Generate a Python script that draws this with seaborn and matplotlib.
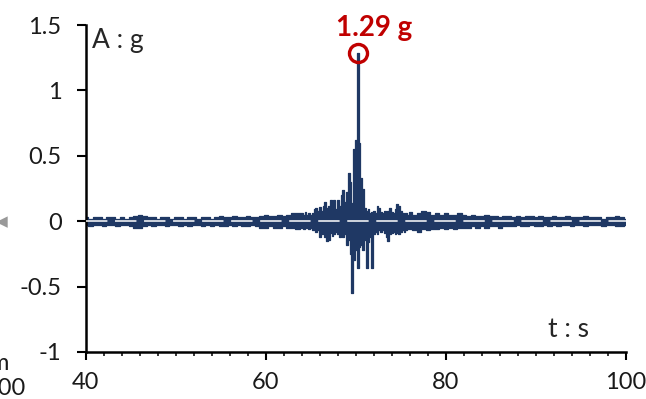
import numpy as np
import pandas as pd
import matplotlib
matplotlib.use("Agg")
import matplotlib.pyplot as plt
import seaborn as sns
from matplotlib.ticker import MultipleLocator

# acceleration record (g) read off the picture as upper / lower envelope
# of the dense trace, in three sampled segments
t_pre = np.round(np.arange(40.0, 63.75, 0.5), 2)
up_pre = [0.03, 0.02, 0.03, 0.03, 0.02, 0.03, 0.03, 0.02, 0.03, 0.02,
          0.03, 0.04, 0.05, 0.04, 0.03, 0.03, 0.02, 0.03, 0.03, 0.02,
          0.03, 0.03, 0.02, 0.03, 0.03, 0.02, 0.03, 0.03, 0.02, 0.03,
          0.04, 0.03, 0.03, 0.04, 0.03, 0.03, 0.04, 0.03, 0.03, 0.04,
          0.05, 0.04, 0.04, 0.05, 0.04, 0.05, 0.06, 0.06]
lo_pre = [-0.03, -0.04, -0.03, -0.03, -0.04, -0.03, -0.03, -0.04, -0.03, -0.03,
          -0.04, -0.05, -0.05, -0.04, -0.03, -0.04, -0.03, -0.03, -0.04, -0.03,
          -0.03, -0.04, -0.03, -0.04, -0.03, -0.03, -0.04, -0.03, -0.04, -0.03,
          -0.04, -0.04, -0.03, -0.04, -0.03, -0.04, -0.04, -0.03, -0.04, -0.05,
          -0.05, -0.04, -0.05, -0.05, -0.04, -0.05, -0.05, -0.06]

t_main = np.round(np.arange(64.0, 76.1, 0.2), 2)
up_main = [0.06, 0.05, 0.07, 0.05, 0.06, 0.05, 0.06, 0.09, 0.10, 0.08,
           0.11, 0.08, 0.12, 0.15, 0.10, 0.12, 0.16, 0.13, 0.16, 0.09,
           0.16, 0.12, 0.20, 0.24, 0.15, 0.22, 0.37, 0.30, 0.14, 0.55,
           0.62, 1.29, 0.60, 0.33, 0.25, 0.10, 0.08, 0.09, 0.06, 0.07,
           0.08, 0.06, 0.12, 0.10, 0.07, 0.06, 0.08, 0.07, 0.08, 0.10,
           0.07, 0.06, 0.09, 0.13, 0.12, 0.08, 0.06, 0.05, 0.06, 0.05,
           0.07]
lo_main = [-0.05, -0.06, -0.05, -0.05, -0.06, -0.05, -0.07, -0.06, -0.08, -0.07,
           -0.12, -0.10, -0.09, -0.12, -0.15, -0.14, -0.09, -0.11, -0.10, -0.08,
           -0.10, -0.12, -0.09, -0.12, -0.10, -0.18, -0.14, -0.25, -0.55, -0.30,
           -0.22, -0.36, -0.20, -0.18, -0.22, -0.14, -0.36, -0.16, -0.12, -0.36,
           -0.10, -0.08, -0.10, -0.07, -0.08, -0.07, -0.09, -0.12, -0.15, -0.10,
           -0.09, -0.08, -0.10, -0.09, -0.10, -0.08, -0.07, -0.08, -0.07, -0.06,
           -0.06]

t_post = np.round(np.arange(76.5, 100.25, 0.5), 2)
up_post = [0.05, 0.06, 0.08, 0.07, 0.05, 0.06, 0.05, 0.06, 0.05, 0.05,
           0.06, 0.05, 0.04, 0.05, 0.04, 0.04, 0.05, 0.04, 0.04, 0.03,
           0.04, 0.04, 0.03, 0.04, 0.03, 0.04, 0.04, 0.03, 0.04, 0.03,
           0.03, 0.04, 0.03, 0.03, 0.04, 0.03, 0.03, 0.03, 0.04, 0.03,
           0.03, 0.03, 0.02, 0.03, 0.03, 0.04, 0.03, 0.02]
lo_post = [-0.07, -0.08, -0.06, -0.07, -0.06, -0.06, -0.05, -0.06, -0.05, -0.06,
           -0.05, -0.05, -0.05, -0.04, -0.05, -0.04, -0.05, -0.04, -0.04, -0.05,
           -0.04, -0.04, -0.04, -0.03, -0.04, -0.04, -0.03, -0.04, -0.04, -0.03,
           -0.04, -0.03, -0.04, -0.03, -0.03, -0.04, -0.03, -0.03, -0.04, -0.03,
           -0.03, -0.03, -0.04, -0.03, -0.03, -0.04, -0.04, -0.03]

peak_t = 70.2
peak_a = 1.29
peak_label = "1.29 g"

df = pd.DataFrame({
    "t": np.concatenate([t_pre, t_main, t_post]),
    "upper": np.concatenate([up_pre, up_main, up_post]),
    "lower": np.concatenate([lo_pre, lo_main, lo_post]),
})

sns.set_style("ticks")
plt.rcParams["font.family"] = ["Lato", "DejaVu Sans"]

fig = plt.figure(figsize=(6.46, 3.99), dpi=100)
ax = fig.add_axes([0.133, 0.118, 0.836, 0.819])

navy = "#1f3864"
red = "#c00000"

# dense trace drawn as its filled envelope
ax.fill_between(df["t"], df["lower"], df["upper"], step="mid",
                color=navy, lw=0)
sns.lineplot(data=df, x="t", y="upper", ax=ax, color=navy, lw=0.9,
             estimator=None, drawstyle="steps-mid")
sns.lineplot(data=df, x="t", y="lower", ax=ax, color=navy, lw=0.9,
             estimator=None, drawstyle="steps-mid")
ax.axhline(0, color="white", lw=1.1, dashes=(14, 5), zorder=3)

# peak marker and label
ax.plot([peak_t], [peak_a], marker="o", ms=13, mfc="none", mec=red,
        mew=2.4, zorder=4, clip_on=False)
ax.text(peak_t + 1.85, peak_a + 0.09, peak_label, color=red, fontsize=20,
        fontweight="bold", ha="center", va="bottom")

ax.set_xlim(40, 100)
ax.set_ylim(-1, 1.5)
ax.xaxis.set_major_locator(MultipleLocator(20))
ax.xaxis.set_minor_locator(MultipleLocator(2))
ax.yaxis.set_major_locator(MultipleLocator(0.5))
ax.set_yticklabels([f"{v:g}" for v in ax.get_yticks()])
ax.set_xlabel("")
ax.set_ylabel("")

ax.tick_params(axis="both", which="major", labelsize=17, width=1.5,
               color="black", labelcolor="#1a1a1a")
ax.tick_params(axis="x", which="major", length=5.5, pad=9)
ax.tick_params(axis="x", which="minor", length=3, width=1.3)
ax.tick_params(axis="y", which="major", length=6.5, pad=11)

sns.despine(ax=ax)
for s in ("left", "bottom"):
    ax.spines[s].set_linewidth(1.8)
    ax.spines[s].set_color("black")

ax.text(0.012, 0.99, "A : g", transform=ax.transAxes, fontsize=19,
        ha="left", va="top")
ax.text(0.893, 0.07, "t : s", transform=ax.transAxes, fontsize=19,
        ha="center", va="center")

# slivers of the neighbouring chart at the left edge
fig.text(25 / 646, 1 - 399 / 399, "100", fontsize=17, ha="right",
         va="bottom", color="#1a1a1a")
fig.text(9 / 646, 1 - 370 / 399, "m", fontsize=17, ha="right",
         va="baseline", color="#1a1a1a")
fig.text(2 / 646, 1 - 222 / 399, "\u25c0", fontsize=11, ha="center",
         va="center", color="#999999")

fig.savefig("out.png", dpi=100)
